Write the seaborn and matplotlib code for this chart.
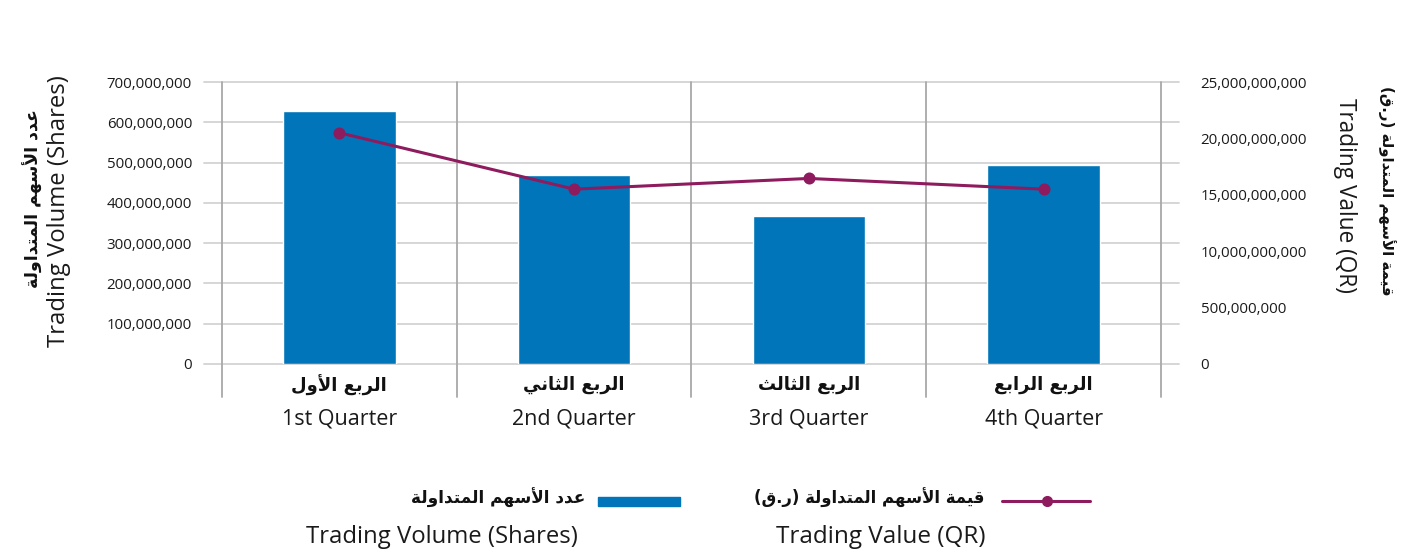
import matplotlib
matplotlib.use("Agg")
import seaborn as sns
import matplotlib.pyplot as plt
from matplotlib.lines import Line2D
from matplotlib.patches import Rectangle
from matplotlib.ticker import FixedLocator, FixedFormatter

# data
quarters_ar = ["الربع الأول", "الربع الثاني", "الربع الثالث", "الربع الرابع"]
quarters_en = ["1st Quarter", "2nd Quarter", "3rd Quarter", "4th Quarter"]
volume = [628e6, 469e6, 367e6, 494e6]          # shares
value = [20.5e9, 15.5e9, 16.45e9, 15.5e9]      # QR
left_ticks = [0, 100e6, 200e6, 300e6, 400e6, 500e6, 600e6, 700e6]
left_labels = ["0", "100,000,000", "200,000,000", "300,000,000", "400,000,000",
               "500,000,000", "600,000,000", "700,000,000"]
right_ticks = [0, 5e9, 10e9, 15e9, 20e9, 25e9]
right_labels = ["0", "500,000,000", "10,000,000,000", "15,000,000,000",
                "20,000,000,000", "25,000,000,000"]
vol_ar = "عدد الأسهم المتداولة"
vol_en = "Trading Volume (Shares)"
val_ar = "قيمة الأسهم المتداولة (ر.ق)"
val_en = "Trading Value (QR)"

BLUE = "#0075B9"
PLUM = "#8E1B5E"
GRID = "#D3D3D3"
VGRID = "#A8A8A8"
TXT = "#1A1A1A"

# matplotlib has no arabic shaping: pick presentation forms and reverse by hand
FORMS = {"ا": (0xFE8D, 0), "أ": (0xFE83, 0), "ب": (0xFE8F, 1), "ة": (0xFE93, 0),
         "ت": (0xFE95, 1), "ث": (0xFE99, 1), "د": (0xFEA9, 0), "ر": (0xFEAD, 0),
         "س": (0xFEB1, 1), "ع": (0xFEC9, 1), "ق": (0xFED5, 1), "ل": (0xFEDD, 1),
         "م": (0xFEE1, 1), "ن": (0xFEE5, 1), "ه": (0xFEE9, 1), "و": (0xFEED, 0),
         "ي": (0xFEF1, 1)}
LAM_ALEF = {"ا": 0xFEFB, "أ": 0xFEF7}


def shape_ar(s):
    toks = []
    i = 0
    while i < len(s):
        c = s[i]
        if c == "ل" and i + 1 < len(s) and s[i + 1] in LAM_ALEF:
            toks.append((LAM_ALEF[s[i + 1]], 0))
            i += 2
            continue
        toks.append(FORMS.get(c, c))
        i += 1
    out = []
    for k, t in enumerate(toks):
        if isinstance(t, str):
            out.append(t)
            continue
        base, dual = t
        prev = toks[k - 1] if k > 0 else None
        nxt = toks[k + 1] if k + 1 < len(toks) else None
        jp = isinstance(prev, tuple) and prev[1] == 1
        jn = dual == 1 and isinstance(nxt, tuple)
        off = {(False, False): 0, (True, False): 1, (False, True): 2, (True, True): 3}[(jp, jn)]
        out.append(chr(base + off))
    vis = "".join(reversed(out))
    return vis.translate(str.maketrans("()", ")("))


sns.set_style("white")
plt.rcParams["font.family"] = ["Open Sans", "DejaVu Sans"]
AR = ["DejaVu Sans"]

fig = plt.figure(figsize=(14.02, 5.53), dpi=100)
ax = fig.add_axes([0.1583, 0.3418, 0.6698, 0.5099])

sns.barplot(x=quarters_en, y=volume, ax=ax, color=BLUE, saturation=1, width=0.48, zorder=2)
ax.set_xlim(-0.5, 3.5)
ax.set_ylim(0, 700e6)
ax.yaxis.set_major_locator(FixedLocator(left_ticks))
ax.yaxis.set_major_formatter(FixedFormatter(left_labels))
for y in left_ticks:
    ax.axhline(y, xmin=-0.019, xmax=1.019, color=GRID, lw=1.3, zorder=0, clip_on=False)
for x in [-0.5, 0.5, 1.5, 2.5, 3.5]:
    ax.axvline(x, ymin=-0.118, ymax=1, color=VGRID, lw=1.3, zorder=1, clip_on=False)
for s in ax.spines.values():
    s.set_visible(False)
ax.tick_params(axis="y", length=0, pad=21.5, labelsize=10.8, colors=TXT)
ax.tick_params(axis="x", bottom=False, labelbottom=False)
ax.set_xlabel("")
ax.set_ylabel("")

ax2 = ax.twinx()
sns.pointplot(x=quarters_en, y=value, ax=ax2, color=PLUM, markers="o",
              markersize=7, linewidth=2.2, errorbar=None)
ax2.set_ylim(0, 25e9)
ax2.set_xlim(-0.5, 3.5)
ax2.yaxis.set_major_locator(FixedLocator(right_ticks))
ax2.yaxis.set_major_formatter(FixedFormatter(right_labels))
ax2.tick_params(axis="y", length=0, pad=28.5, labelsize=10.8, colors=TXT)
for s in ax2.spines.values():
    s.set_visible(False)
ax2.set_ylabel("")

xt = ax.get_xaxis_transform()
for i in range(len(quarters_en)):
    ax.text(i, -0.075, shape_ar(quarters_ar[i]), transform=xt, ha="center", va="center",
            fontsize=13, fontweight="bold", family=AR, color="#111111")
    ax.text(i, -0.195, quarters_en[i], transform=xt, ha="center", va="center",
            fontsize=15.5, color=TXT)

# axis titles
fig.text(33 / 1402, 1 - 199 / 553, shape_ar(vol_ar), rotation=90, ha="center", va="center",
         fontsize=12.5, fontweight="bold", family=AR, color="#111111")
fig.text(59 / 1402, 1 - 211 / 553, vol_en, rotation=90, ha="center", va="center",
         fontsize=17.2, color=TXT)
fig.text(1387 / 1402, 1 - 191 / 553, shape_ar(val_ar), rotation=-90, ha="center", va="center",
         fontsize=10.8, fontweight="bold", family=AR, color="#111111")
fig.text(1345 / 1402, 1 - 195 / 553, val_en, rotation=-90, ha="center", va="center",
         fontsize=16.3, color=TXT)

# legend
fig.add_artist(Rectangle((598 / 1402, 1 - 506 / 553), 82 / 1402, 9 / 553,
                         transform=fig.transFigure, color=BLUE))
fig.text(585 / 1402, 1 - 498 / 553, shape_ar(vol_ar), ha="right", va="center",
         fontsize=12.2, fontweight="bold", family=AR, color="#111111")
fig.text(578 / 1402, 1 - 537 / 553, vol_en, ha="right", va="center",
         fontsize=17.2, color=TXT)
fig.add_artist(Line2D([1002 / 1402, 1090 / 1402], [1 - 501 / 553] * 2,
                      transform=fig.transFigure, color=PLUM, lw=2.2))
fig.add_artist(Line2D([1047 / 1402], [1 - 501 / 553], transform=fig.transFigure,
                      color=PLUM, marker="o", markersize=7))
fig.text(985 / 1402, 1 - 498 / 553, shape_ar(val_ar), ha="right", va="center",
         fontsize=11.9, fontweight="bold", family=AR, color="#111111")
fig.text(985 / 1402, 1 - 537 / 553, val_en, ha="right", va="center",
         fontsize=17.5, color=TXT)

fig.savefig("out.png", dpi=100)
